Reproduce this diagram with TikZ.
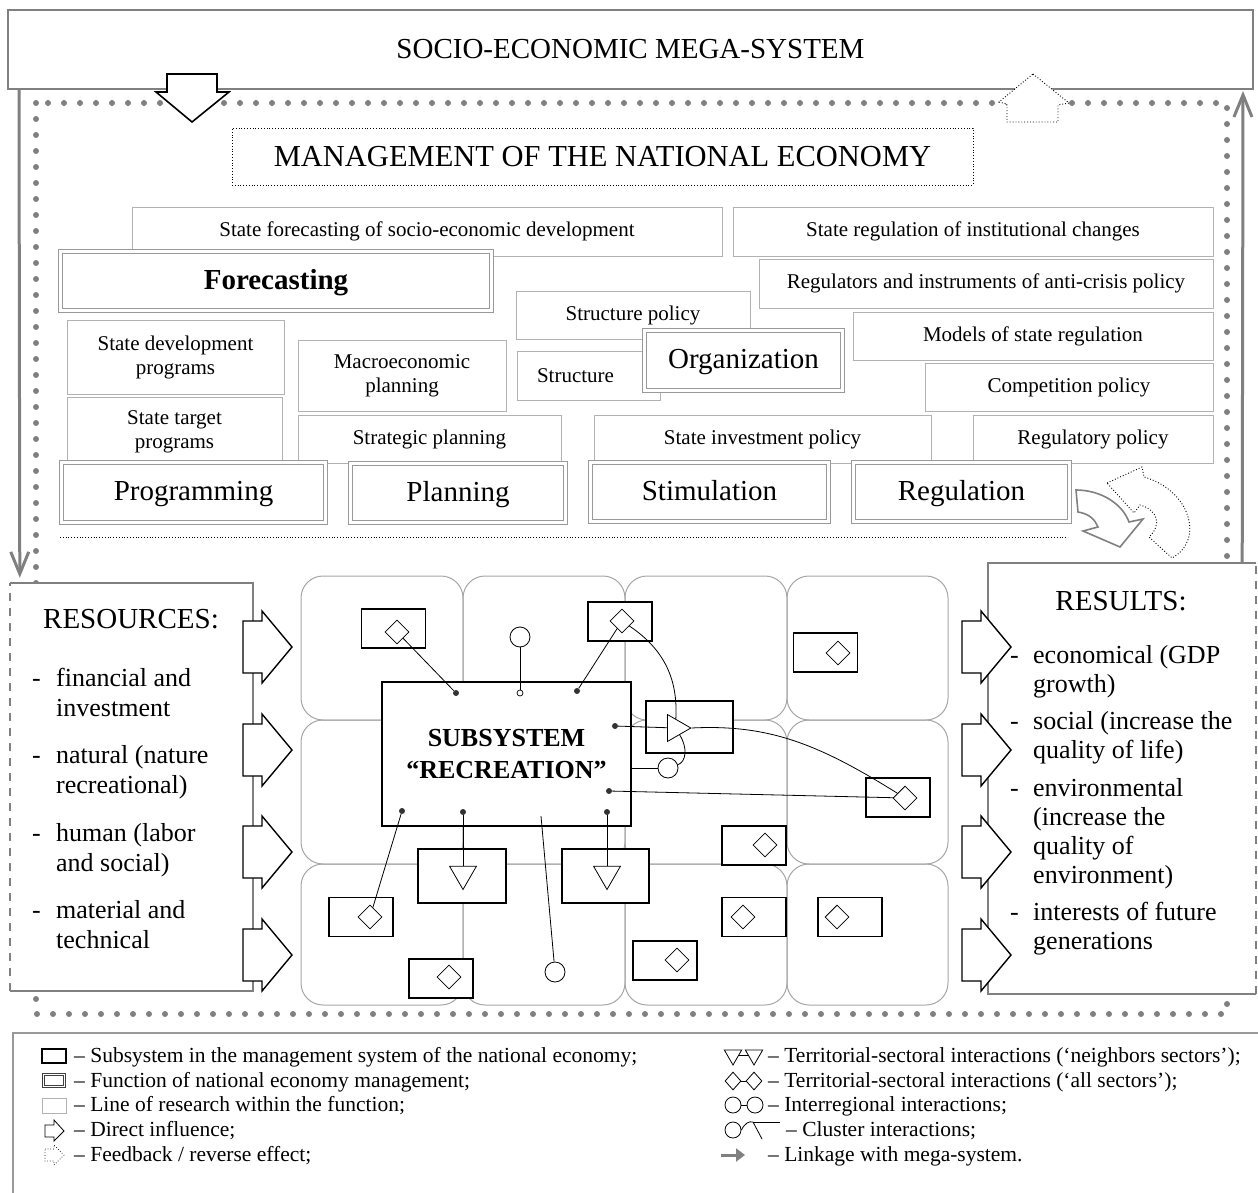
\documentclass[tikz,border=0pt]{standalone}
\usepackage{fontspec}
\setmainfont{Liberation Serif}
\usetikzlibrary{arrows.meta, positioning, shapes.geometric}

\newcommand\sztitle{\fontsize{29}{33}\selectfont}
\newcommand\szmgmt{\fontsize{30.5}{34}\selectfont}
\newcommand\szline{\fontsize{21}{24}\selectfont}
\newcommand\szlist{\fontsize{26}{30}\selectfont}
\newcommand\szres{\fontsize{26}{29}\selectfont}
\newcommand\szsub{\fontsize{26}{32}\selectfont\bfseries}
\newcommand\szlegend{\fontsize{21.5}{25}\selectfont}

\tikzset{
  megabox/.style={draw=gray, line width=2pt, fill=white, minimum width=1245pt, minimum height=79pt, font=\sztitle},
  linebox/.style={draw=gray!60, line width=0.9pt, fill=white, inner sep=0pt, align=center, font=\szline},
  funcbox/.style={draw=gray!80, line width=1.1pt, double=white, double distance=2.4pt, fill=white, inner sep=0pt,
    text height=21pt, text depth=4.5pt, font=\sztitle},
  subbox/.style={draw=black, line width=1.6pt, fill=white, inner sep=0pt},
  cell/.style={draw=gray!70, line width=1pt, rounded corners=22pt},
  sidepen/.style={draw=gray, line width=1.6pt},
  gem/.style={diamond, draw, line width=0.8pt, fill=white, inner sep=0pt, minimum width=24pt, minimum height=24pt},
  ring/.style={circle, draw, line width=0.8pt, fill=white, inner sep=0pt, minimum size=20pt},
  tri/.style={regular polygon, regular polygon sides=3, draw, line width=0.8pt, fill=white, inner sep=0pt, minimum size=31pt},
  contact/.style={circle, fill=black!80, inner sep=0pt, minimum size=6pt},
  opencontact/.style={circle, draw, line width=0.7pt, fill=white, inner sep=0pt, minimum size=6pt},
  wire/.style={line width=0.8pt},
  megalink/.style={draw=gray, line width=3pt, -{Straight Barb[length=22pt,width=18pt]}},
  dotframe/.style={draw=gray, line width=6pt, line cap=round, dash pattern=on 0pt off 16pt},
  inarrow/.pic={\draw[line width=1.4pt, fill=white] (0,-26) -- (19,-26) -- (19,-36) -- (49,0) -- (19,36) -- (19,26) -- (0,26) -- cycle;},
}

\begin{document}
\begin{tikzpicture}[x=1pt, y=-1pt]
\useasboundingbox (0,0) rectangle (1258,1193);

% dotted frame of the national economy
\draw[dotframe] (36,103) rectangle (1227,1014);

% mega-system
\node[megabox] (mega) at (630.5,49.5) {SOCIO-ECONOMIC MEGA-SYSTEM};
\draw[line width=1.6pt, fill=white] (167,74) -- (217,74) -- (217,92) -- (229,92) -- (192,122) -- (156,92) -- (167,92) -- cycle;
\draw[dotted, line width=0.9pt, fill=white] (1033,74) -- (1069,103) -- (1058,105) -- (1058,122) -- (1007,122) -- (1007,104) -- (999,102) -- cycle;

% management of the national economy
\node[draw, dotted, line width=0.8pt, minimum width=741pt, minimum height=57pt, font=\szmgmt] (mgmt) at (602.5,156.5) {MANAGEMENT OF THE NATIONAL ECONOMY};

% lines of research
\node[linebox, minimum width=590pt, minimum height=49pt] (sfc) at (427,231.5) {State forecasting of socio-economic development};
\node[linebox, minimum width=480pt, minimum height=49pt] (sric) at (973,231.5) {State regulation of institutional changes};
\node[linebox, minimum width=454pt, minimum height=49pt] (acp) at (986,283.5) {Regulators and instruments of anti-crisis policy};
\node[linebox, minimum width=234pt, minimum height=48pt] (strp) at (633,315) {Structure policy};
\node[linebox, minimum width=360pt, minimum height=48pt] (msr) at (1033,336) {Models of state regulation};
\node[linebox, minimum width=143pt, minimum height=49pt, text width=103pt, align=left, inner xsep=20pt] (str) at (588.5,375.5) {Structure};
\node[linebox, minimum width=288pt, minimum height=48pt] (cmp) at (1069,387) {Competition policy};
\node[linebox, minimum width=217pt, minimum height=74pt] (sdp) at (175.5,357) {State development\\programs};
\node[linebox, minimum width=208pt, minimum height=71pt] (mac) at (402,375.5) {Macroeconomic\\planning};
\node[linebox, minimum width=215pt, minimum height=70pt] (stgp) at (174.5,432) {State target\\programs};
\node[linebox, minimum width=263pt, minimum height=48pt] (spl) at (429.5,439) {Strategic planning};
\node[linebox, minimum width=337pt, minimum height=48pt] (sip) at (762.5,439) {State investment policy};
\node[linebox, minimum width=240pt, minimum height=48pt] (rgp) at (1093,439) {Regulatory policy};

% functions
\node[funcbox, font=\sztitle\bfseries, minimum width=431pt, minimum height=59pt] (fore) at (276,281) {Forecasting};
\node[funcbox, minimum width=198pt, minimum height=60pt] (org) at (743.5,360.5) {Organization};
\node[funcbox, minimum width=264pt, minimum height=60pt] (prog) at (193.5,492.5) {Programming};
\node[funcbox, minimum width=215pt, minimum height=59pt] (plan) at (458,493) {Planning};
\node[funcbox, minimum width=238pt, minimum height=59pt] (stim) at (709.5,492) {Stimulation};
\node[funcbox, minimum width=216pt, minimum height=59pt] (regl) at (961.5,492) {Regulation};

\draw[dotted, line width=0.8pt] (60,537) -- (1068,537);

% regulation and feedback
\draw[draw=gray, line width=1.6pt, fill=white] (1076,490) .. controls (1100,490) and (1122,503) .. (1129,522) -- (1143,519) -- (1120,547) -- (1083,531) -- (1098,527) .. controls (1095,520) and (1090,514) .. (1078,512) -- cycle;
\draw[dotted, line width=0.9pt, fill=white] (1107,483) -- (1142,467) -- (1144,477) .. controls (1190,490) and (1205,540) .. (1172,558) -- (1149,537) .. controls (1162,525) and (1158,510) .. (1140,505) -- (1134,513) -- cycle;

% resources and results
\node[fill=white, minimum width=243pt, minimum height=408pt] (res) at (131.5,787) {};
\draw[sidepen] (res.north west) -- (res.north east) -- (res.south east) -- (res.south west);
\draw[sidepen, dash pattern=on 8pt off 7pt] (res.south west) -- (res.north west);
\node[font=\sztitle] (restitle) at (131,619) {RESOURCES:};
\node[font=\szlist, anchor=base west, inner sep=0pt] (reslist) at (32,686) {%
  \begin{tabular}[t]{@{}p{24pt}@{}l@{}}
  - & financial and\\ & investment\\[17.5pt]
  - & natural (nature\\ & recreational)\\[17.5pt]
  - & human (labor\\ & and social)\\[17.5pt]
  - & material and\\ & technical
  \end{tabular}};

\node[fill=white, minimum width=268pt, minimum height=431pt] (out) at (1122,778.5) {};
\draw[sidepen] (out.north east) -- (out.north west) -- (out.south west) -- (out.south east);
\draw[sidepen, dash pattern=on 8pt off 7pt] (out.south east) -- (out.north east);
\node[font=\sztitle] (outtitle) at (1121,601) {RESULTS:};
\node[font=\szres, anchor=base west, inner sep=0pt] (outlist) at (1010,663) {%
  \begin{tabular}[t]{@{}p{23pt}@{}l@{}}
  - & economical (GDP\\ & growth)\\[8.5pt]
  - & social (increase the\\ & quality of life)\\[8.5pt]
  - & environmental\\ & (increase the\\ & quality of\\ & environment)\\[8.5pt]
  - & interests of future\\ & generations
  \end{tabular}};

\foreach \ya in {647,750,852,955} {
  \pic at (243,\ya) {inarrow};
  \pic at (962,\ya) {inarrow};
}

% linkage with the mega-system
\draw[megalink, shorten >=5pt] ([xshift=12pt]mega.south west) -- ([xshift=10pt]res.north west);
\draw[megalink, shorten >=1pt] ([xshift=-14pt]out.north east) -- ([xshift=-11pt]mega.south east);

% sectors and regions
\foreach \xa/\xb in {301/463,463/625,625/787,787/948}
  \foreach \ya/\yb in {576/720,720/864,864/1005}
    \draw[cell] (\xa,\ya) rectangle (\xb,\yb);

\node[subbox, align=center, font=\szsub, minimum width=249pt, minimum height=144pt] (sub) at (506.5,754) {SUBSYSTEM\\“RECREATION”};

\foreach \n/\x/\y in {1/393.5/628.5, 2/620/621.5, 3/825.5/652.5, 4/898/797.5, 5/754/845.5,
                      6/361/917, 7/441/978.5, 8/665/960.5, 9/754/917, 10/850/917}
  \node[subbox, minimum width=64pt, minimum height=39pt] (b\n) at (\x,\y) {};
\node[subbox, minimum width=87pt, minimum height=52pt] (tb1) at (689.5,727) {};
\node[subbox, minimum width=88pt, minimum height=54pt] (tb2) at (462,876) {};
\node[subbox, minimum width=87pt, minimum height=54pt] (tb3) at (605.5,876) {};

\foreach \n/\x/\y in {1/397/632, 2/622/621, 3/838/653, 4/905/798, 5/765/845,
                      6/370/917, 7/449/977, 8/677/960, 9/743/917, 10/837/917}
  \node[gem] (k\n) at (\x,\y) {};
\node[tri, shape border rotate=-90] (t1) at (675.3,728) {};
\node[tri, shape border rotate=180] (t2) at (463,874) {};
\node[tri, shape border rotate=180] (t3) at (607,874) {};
\node[ring] (c1) at (520,637) {};
\node[ring] (c2) at (668,768) {};
\node[ring] (c3) at (555,972) {};

\node[contact] (d1) at (456,693) {};
\node[opencontact] (d2) at (520,693) {};
\node[contact] (d3) at (577,691) {};
\node[contact] (d4) at (615,726) {};
\node[contact] (d5) at (609,791) {};
\node[contact] (d6) at (402,811) {};
\node[contact] (d7) at (463,812) {};
\node[contact] (d8) at (607,812) {};
\coordinate (e9) at (541,816);

\draw[wire] (d1) -- (k1);
\draw[wire] (c1) -- (d2);
\draw[wire] (d3) -- (k2);
\draw[wire] (k2) .. controls (665,650) and (678,680) .. (t1);
\draw[wire] (t1) .. controls (688,748) and (686,762) .. (c2);
\draw[wire] (sub.east |- c2) -- (c2);
\draw[wire] (d4) -- (t1);
\draw[wire] (t1.corner 1) .. controls (770,724) and (820,745) .. (k4);
\draw[wire] (d5) -- (k4);
\draw[wire] (d6) -- (k6);
\draw[wire] (d7) -- (t2);
\draw[wire] (d8) -- (t3);
\draw[wire] (e9) -- (c3);

% legend
\draw[draw=gray!80, line width=1.4pt] (13,1193) -- (13,1033) -- (1258,1033);
\node[subbox, line width=1.3pt, minimum width=24pt, minimum height=14pt] (lg1) at (54,1056) {};
\node[funcbox, draw=black!75, line width=0.8pt, double distance=1.8pt, text height=0pt, text depth=0pt, minimum width=21pt, minimum height=12pt] (lg2) at (54,1080.5) {};
\node[linebox, minimum width=24pt, minimum height=15pt] (lg3) at (54,1105.5) {};
\draw[line width=0.8pt, fill=white] (45,1125) -- (54,1125) -- (54,1120) -- (64,1131) -- (54,1141) -- (54,1137) -- (45,1137) -- cycle;
\draw[dotted, line width=0.7pt] (45,1149) -- (54,1149) -- (54,1145) -- (64,1155) -- (54,1165) -- (54,1161) -- (45,1161) -- cycle;
\foreach \y/\txt in {1057/{Subsystem in the management system of the national economy;},
                     1082/{Function of national economy management;},
                     1106/{Line of research within the function;},
                     1131/{Direct influence;},
                     1156/{Feedback / reverse effect;}}
  \node[font=\szlegend, anchor=west, inner sep=0pt] at (74,\y) {-- \txt};

\node[tri, minimum size=20pt, shape border rotate=180] (lt1) at (733,1055) {};
\node[tri, minimum size=20pt, shape border rotate=180] (lt2) at (754,1055) {};
\draw[wire] (lt1) -- (lt2);
\node[gem, minimum width=16pt, minimum height=18pt] (lk1) at (733,1081) {};
\node[gem, minimum width=16pt, minimum height=18pt] (lk2) at (754,1081) {};
\draw[wire] (lk1) -- (lk2);
\node[ring, minimum size=16pt] (lc1) at (733,1105) {};
\node[ring, minimum size=16pt] (lc2) at (755,1105) {};
\draw[wire] (lc1) -- (lc2);
\node[ring, minimum size=16pt] (lc3) at (733,1130) {};
\coordinate (lkink) at (753,1122);
\draw[wire] (lc3.east) .. controls (745,1123) and (749,1121) .. (lkink) -- (762,1139);
\draw[wire] (lkink) -- (780,1122);
\draw[draw=gray, line width=3pt, -{Triangle[length=9pt,width=13pt]}] (721,1155) -- (745,1155);
\foreach \x/\y/\txt in {768/1057/{Territorial-sectoral interactions (‘neighbors sectors’);},
                        768/1082/{Territorial-sectoral interactions (‘all sectors’);},
                        768/1106/{Interregional interactions;},
                        786/1131/{Cluster interactions;},
                        768/1156/{Linkage with mega-system.}}
  \node[font=\szlegend, anchor=west, inner sep=0pt] at (\x,\y) {-- \txt};
\end{tikzpicture}
\end{document}
